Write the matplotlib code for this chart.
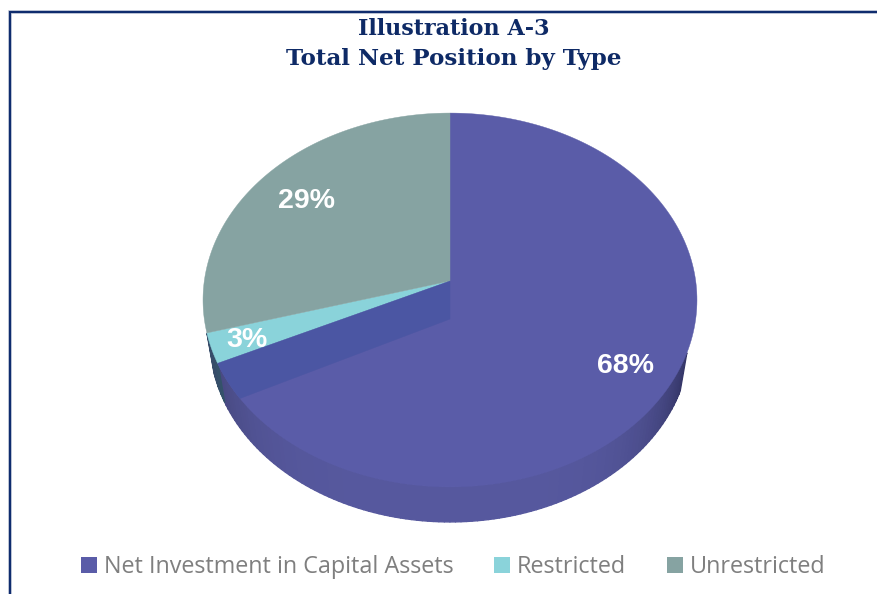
import numpy as np
import matplotlib
matplotlib.use("Agg")
import matplotlib.pyplot as plt
from matplotlib.collections import PolyCollection
from matplotlib.patches import Patch
from matplotlib.colors import to_rgb

categories = ["Net Investment in Capital Assets", "Restricted", "Unrestricted"]
shares = [68.0, 2.6, 29.4]
share_labels = ["68%", "3%", "29%"]
colors = ["#5A5CA8", "#8AD3DA", "#86A3A2"]
wall_colors = ["#56589E", "#2F6A6E", "#2F6A6E"]
label_radius = [0.81, 0.855, 0.765]

NAVY = "#0E2A66"

# pie geometry in pixels, the tilted disc is drawn as a projective map
CX, CY = 450, 281
A, B, K = 245.7, 185, 0.1016


def project(t, r=1.0):
    # t is the clockwise angle from 12 o'clock in radians
    u = r * np.sin(t)
    v = r * np.cos(t)
    w = 1 + K * v
    return CX + A * u / w, CY - B * v / w


def drop(x, y):
    # the lower rim of the side wall
    return CX + (x - CX) * 0.972, 339 + (y - 300) * 183 / 187


def mix(c1, c2, f):
    a, b = np.array(to_rgb(c1)), np.array(to_rgb(c2))
    return tuple(a + (b - a) * f)


fig = plt.figure(figsize=(8.78, 5.94), dpi=100)
ax = fig.add_axes([0, 0, 1, 1])
ax.set_xlim(0, 878)
ax.set_ylim(594, 0)
ax.axis("off")

edges = np.radians(np.concatenate([[0], np.cumsum(shares)]) * 3.6)

# side wall, darker towards both ends and most of all on the right
ts = np.radians(np.linspace(112, 254, 120))
quads, quad_colors = [], []
for t0, t1 in zip(ts[:-1], ts[1:]):
    x0, y0 = project(t0)
    x1, y1 = project(t1)
    x2, y2 = drop(x1, y1)
    x3, y3 = drop(x0, y0)
    quads.append([(x0, y0), (x1, y1), (x2, y2), (x3, y3)])
    mid = (t0 + t1) / 2
    idx = np.searchsorted(edges, mid) - 1
    f = abs(np.sin(mid)) ** 5
    if np.sin(mid) > 0:
        quad_colors.append(mix(wall_colors[idx], "#23244A", 0.95 * f))
    else:
        quad_colors.append(mix(wall_colors[idx], "#3A3B66", 0.8 * f))
ax.add_collection(
    PolyCollection(quads, facecolors=quad_colors, edgecolors=quad_colors, linewidths=1.0)
)

# top faces
for i in range(len(shares)):
    ts = np.linspace(edges[i], edges[i + 1], 200)
    xs, ys = project(ts)
    xs = np.concatenate([[CX], xs])
    ys = np.concatenate([[CY], ys])
    ax.fill(xs, ys, color=colors[i], lw=0.3)

# inner face of the big slice, seen past the centre
ts = np.linspace(np.radians(233.4), edges[1], 40)
xs, ys = project(ts)
ax.fill(
    np.concatenate([[CX, CX], xs]),
    np.concatenate([[CY, 319], ys]),
    color="#4B56A3",
    lw=0.3,
)

# slice labels
for i, text in enumerate(share_labels):
    mid = (edges[i] + edges[i + 1]) / 2
    x, y = project(mid, label_radius[i])
    ax.text(x, y + 1.5, text, color="white", fontsize=20.5, fontweight="bold",
            family="Liberation Sans", ha="center", va="center")

# frame
ax.plot([10.5, 10.5, 878], [594, 11.5, 11.5], color="#B4BCD0", lw=2.6,
        solid_joinstyle="miter")
ax.plot([10.5, 10.5, 878], [594, 11.5, 11.5], color="#0F2C6E", lw=1.5,
        solid_joinstyle="miter")

# title
ax.text(454, 29, "Illustration A-3", color=NAVY, fontsize=16, fontweight="bold",
        family="DejaVu Serif", ha="center", va="center")
ax.text(454, 59, "Total Net Position by Type", color=NAVY, fontsize=16.6,
        fontweight="bold", family="DejaVu Serif", ha="center", va="center")

# legend
handles = [Patch(facecolor=c, edgecolor="none") for c in colors]
leg = ax.legend(
    handles,
    categories,
    ncols=3,
    loc="center",
    bbox_to_anchor=(453 / 878, 1 - 567 / 594),
    frameon=False,
    prop={"family": "Open Sans", "size": 16.8},
    labelcolor="#7F7F7F",
    handlelength=0.68,
    handleheight=0.68,
    handletextpad=0.3,
    columnspacing=1.75,
)

fig.savefig("out.png", dpi=100)
